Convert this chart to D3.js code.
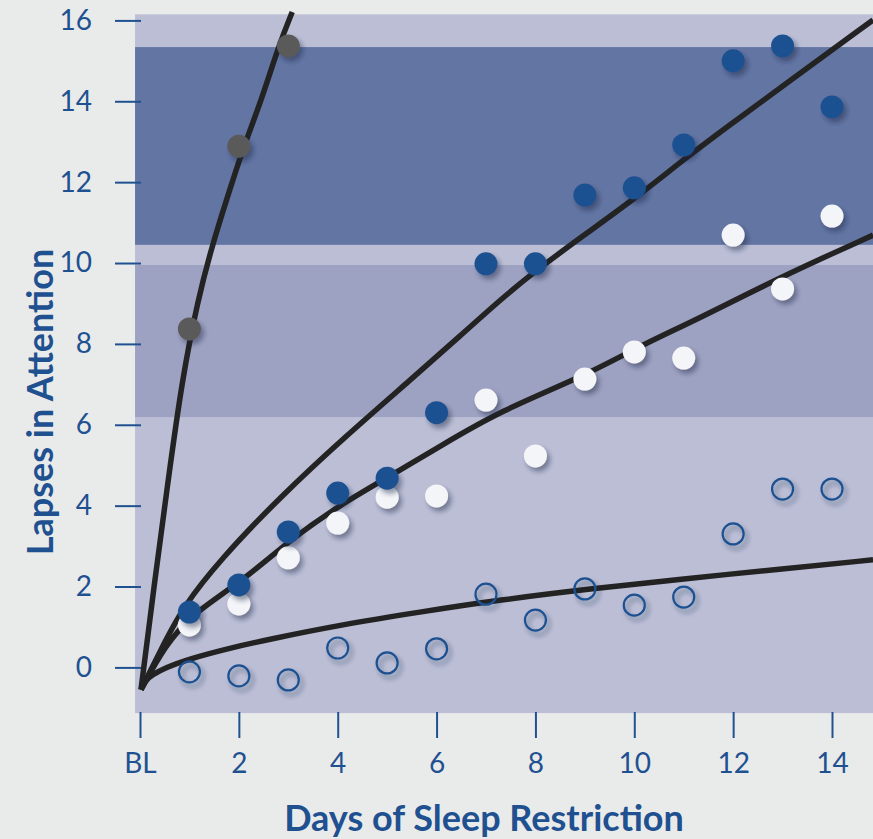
<!DOCTYPE html>
<html>
<head>
<meta charset="utf-8">
<script src="https://cdn.jsdelivr.net/npm/d3@7"></script>
<style>
	body{margin:0;background:#e9ebea}
	svg{display:block}
	.tick text{font-family:Lato,"Open Sans",sans-serif}
</style>
</head>
<body>
<div class="chart"></div>
<script>
// days of sleep restriction (BL = 0)
const days=[1,2,3,4,5,6,7,8,9,10,11,12,13,14]
const xTicks=[0,2,4,6,8,10,12,14]
const yTicks=[0,2,4,6,8,10,12,14,16]

// lapses per group
const lapsesTotal=[8.37,12.89,15.37]
const lapses4h=[1.37,2.04,3.35,4.31,4.68,6.30,9.98,9.98,11.68,11.86,12.92,15.0,15.37,13.86]
const lapses6h=[1.05,1.57,2.71,3.57,4.21,4.24,6.61,5.23,7.13,7.80,7.65,10.69,9.36,11.16]
const lapses8h=[-0.11,-0.21,-0.31,0.48,0.11,0.46,1.81,1.17,1.94,1.54,1.74,3.30,4.41,4.41]

// fitted curves [day, lapses]
const fitTotal=[[0.02,-0.55],[0.30,2.16],[0.57,4.63],[0.85,7.11],[1.17,9.09],[1.46,10.44],[1.86,11.98],[2.10,12.89],[2.45,14.0],[2.81,15.39],[3.08,16.21]]
const fit4h=[[0.02,-0.55],[0.51,0.65],[0.87,1.49],[1.62,2.66],[2.83,4.21],[4.19,5.75],[5.52,7.16],[6.47,8.19],[7.28,9.08],[7.97,9.78],[9.04,10.74],[10.05,11.63],[11.01,12.57],[11.98,13.46],[12.95,14.33],[14.83,16.01]]
const fit6h=[[0.02,-0.55],[0.51,0.55],[1.07,1.34],[2.10,2.16],[3.03,3.15],[4.05,4.02],[5.06,4.73],[6.07,5.47],[7.28,6.34],[9.0,7.21],[10.03,7.90],[11.33,8.64],[12.95,9.65],[14.83,10.69]]
const fit8h=[[0.02,-0.55],[0.12,-0.31],[0.24,-0.19],[0.51,-0.01],[0.99,0.21],[1.82,0.48],[2.63,0.70],[4.05,1.05],[5.66,1.37],[7.28,1.67],[9.10,1.94],[10.99,2.19],[12.95,2.43],[14.83,2.66]]

// shaded bands [from, to] in lapses
const bands=[[-1.13,16.15],[10.45,15.34],[6.19,9.95]]
const bandColors=['#bbbed5','#6375a3','#9ea2c2']

const width=873,height=839
const blue='#1f5191'

const svg=d3.select('.chart').append('svg')
	.attr('width',width)
	.attr('height',height)

const defs=svg.append('defs')
defs.append('filter')
	.attr('id','shadow')
	.attr('x','-50%').attr('y','-50%')
	.attr('width','200%').attr('height','200%')
	.append('feDropShadow')
	.attr('dx',3).attr('dy',4)
	.attr('stdDeviation',2.5)
	.attr('flood-color','#1c2140')
	.attr('flood-opacity',0.45)

const xScale=d3.scaleLinear()
	.domain([0,14])
	.range([140,832])

const yScale=d3.scaleLinear()
	.domain([0,16])
	.range([667.4,20.4])

// bands
svg.selectAll('.band')
	.data(bands)
	.enter()
	.append('rect')
	.attr('class','band')
	.attr('x',xScale(-0.1))
	.attr('width',width-xScale(-0.1))
	.attr('y',d=>yScale(d[1]))
	.attr('height',d=>yScale(d[0])-yScale(d[1]))
	.attr('fill',(d,i)=>bandColors[i])

// axes
const xAxis=d3.axisBottom()
	.scale(xScale)
	.tickValues(xTicks)
	.tickSize(26)
	.tickPadding(15)
	.tickFormat(d=>d===0?'BL':d)

const yAxis=d3.axisLeft()
	.scale(yScale)
	.tickValues(yTicks)
	.tickSize(26)
	.tickPadding(23)

svg.append('g')
	.attr('class','x-axis')
	.attr('transform','translate(0,712)')
	.call(xAxis)

svg.append('g')
	.attr('class','y-axis')
	.attr('transform','translate(141,0)')
	.call(yAxis)

svg.selectAll('.domain').remove()
svg.selectAll('.tick line')
	.attr('stroke',blue)
	.attr('stroke-width',2)
svg.selectAll('.tick text')
	.attr('fill',blue)
	.style('font-size','28px')

// fitted curves
const line=d3.line()
	.x(d=>xScale(d[0]))
	.y(d=>yScale(d[1]))
	.curve(d3.curveBasis)

svg.selectAll('.fit')
	.data([fit8h,fit6h,fit4h,fitTotal])
	.enter()
	.append('path')
	.attr('class','fit')
	.attr('d',line)
	.attr('fill','none')
	.attr('stroke','#232323')
	.attr('stroke-width',5.5)

// points
svg.selectAll('.open')
	.data(lapses8h)
	.enter()
	.append('circle')
	.attr('class','open')
	.attr('cx',(d,i)=>xScale(days[i]))
	.attr('cy',d=>yScale(d))
	.attr('r',10.5)
	.attr('fill','none')
	.attr('stroke',blue)
	.attr('stroke-width',2.2)
	.attr('filter','url(#shadow)')

svg.selectAll('.white')
	.data(lapses6h)
	.enter()
	.append('circle')
	.attr('class','white')
	.attr('cx',(d,i)=>xScale(days[i]))
	.attr('cy',d=>yScale(d))
	.attr('r',11.5)
	.attr('fill','#f4f5f8')
	.attr('filter','url(#shadow)')

svg.selectAll('.blue')
	.data(lapses4h)
	.enter()
	.append('circle')
	.attr('class','blue')
	.attr('cx',(d,i)=>xScale(days[i]))
	.attr('cy',d=>yScale(d))
	.attr('r',11.5)
	.attr('fill',blue)
	.attr('filter','url(#shadow)')

svg.selectAll('.gray')
	.data(lapsesTotal)
	.enter()
	.append('circle')
	.attr('class','gray')
	.attr('cx',(d,i)=>xScale(days[i]))
	.attr('cy',d=>yScale(d))
	.attr('r',11.5)
	.attr('fill','#5a5a5a')
	.attr('filter','url(#shadow)')

// titles
svg.append('text')
	.attr('x',484)
	.attr('y',831)
	.style('text-anchor','middle')
	.style('font-family','Lato,"Open Sans",sans-serif')
	.style('font-weight','bold')
	.style('font-size','36px')
	.attr('fill',blue)
	.text('Days of Sleep Restriction')

svg.append('text')
	.attr('transform','translate(53,402) rotate(-90)')
	.style('text-anchor','middle')
	.style('font-family','Lato,"Open Sans",sans-serif')
	.style('font-weight','bold')
	.style('font-size','36px')
	.attr('fill',blue)
	.text('Lapses in Attention')
</script>
</body>
</html>
